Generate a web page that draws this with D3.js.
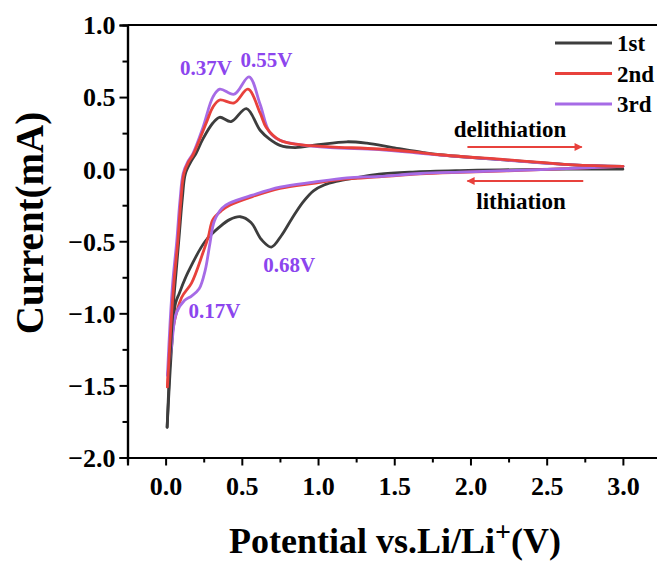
<!DOCTYPE html>
<html><head><meta charset="utf-8">
<script src="https://cdn.jsdelivr.net/npm/d3@7"></script>
<style>body{margin:0;background:#fff}svg{display:block}</style>
</head><body><div id="chart"></div>
<script>
// ---- data (potential V, current mA) ----
const seriesNames = ["1st", "2nd", "3rd"];
const xTicks = [0.0, 0.5, 1.0, 1.5, 2.0, 2.5, 3.0];
const yTicks = [1.0, 0.5, 0.0, -0.5, -1.0, -1.5, -2.0];

// cathodic sweep (lithiation) 3.0 -> 0.01 V
const lower1st = [[3.0,0.0],[2.6,0.0],[2.2,-0.005],[1.93,-0.01],[1.62,-0.02],[1.4,-0.035],[1.25,-0.06],[1.12,-0.085],[1.04,-0.11],[0.97,-0.15],[0.9,-0.23],[0.83,-0.34],[0.76,-0.46],[0.694,-0.54],[0.63,-0.49],[0.56,-0.37],[0.49,-0.33],[0.42,-0.35],[0.355,-0.40],[0.26,-0.5],[0.145,-0.72],[0.09,-0.86],[0.065,-0.93],[0.04,-1.23],[0.01,-1.79]];
const lower2nd = [[3.0,0.02],[2.67,0.005],[2.24,-0.012],[1.93,-0.022],[1.67,-0.033],[1.4,-0.053],[1.19,-0.068],[0.97,-0.098],[0.75,-0.133],[0.57,-0.19],[0.42,-0.25],[0.37,-0.285],[0.31,-0.35],[0.28,-0.47],[0.245,-0.58],[0.17,-0.79],[0.105,-0.89],[0.046,-1.12],[0.012,-1.51]];
const lower3rd = [[3.0,0.02],[2.67,0.005],[2.24,-0.01],[1.93,-0.02],[1.67,-0.03],[1.4,-0.05],[1.19,-0.06],[0.97,-0.09],[0.75,-0.125],[0.57,-0.18],[0.42,-0.235],[0.37,-0.27],[0.32,-0.36],[0.29,-0.52],[0.26,-0.70],[0.22,-0.83],[0.17,-0.88],[0.125,-0.91],[0.07,-1.0],[0.04,-1.22],[0.014,-1.43]];

// anodic sweep (delithiation) 0.01 -> 3.0 V
const upper1st = [[0.01,-1.79],[0.03,-1.3],[0.05,-0.95],[0.07,-0.7],[0.09,-0.45],[0.11,-0.2],[0.13,-0.03],[0.17,0.06],[0.2,0.11],[0.245,0.21],[0.31,0.32],[0.355,0.36],[0.43,0.33],[0.53,0.42],[0.62,0.27],[0.68,0.21],[0.75,0.165],[0.85,0.15],[1.0,0.17],[1.19,0.19],[1.32,0.18],[1.49,0.15],[1.69,0.115],[1.8,0.10],[2.24,0.063],[2.67,0.03],[3.0,0.02]];
const upper2nd = [[0.012,-1.51],[0.035,-1.08],[0.055,-0.78],[0.08,-0.5],[0.1,-0.22],[0.12,-0.03],[0.15,0.05],[0.18,0.1],[0.27,0.33],[0.31,0.43],[0.355,0.48],[0.45,0.46],[0.54,0.555],[0.62,0.39],[0.66,0.29],[0.75,0.2],[0.88,0.17],[1.08,0.155],[1.4,0.14],[1.67,0.115],[1.8,0.10],[2.24,0.065],[2.67,0.03],[3.0,0.02]];
const upper3rd = [[0.012,-1.43],[0.03,-1.05],[0.048,-0.77],[0.073,-0.5],[0.094,-0.22],[0.115,-0.03],[0.145,0.05],[0.18,0.11],[0.245,0.29],[0.31,0.50],[0.355,0.555],[0.45,0.52],[0.547,0.64],[0.62,0.45],[0.68,0.26],[0.75,0.2],[0.88,0.17],[1.08,0.15],[1.4,0.135],[1.67,0.11],[1.8,0.098],[2.24,0.062],[2.67,0.03],[3.0,0.02]];

const peakLabels = [{t:"0.37V", v:0.37, i:0.56}, {t:"0.55V", v:0.55, i:0.64}, {t:"0.68V", v:0.68, i:-0.54}, {t:"0.17V", v:0.17, i:-0.89}];

const colors = ["#3d3d3d", "#e8413c", "#a66be6"];

// ---- layout ----
const W = 657, H = 561;
const svg = d3.select("#chart").append("svg").attr("width", W).attr("height", H);
const x = d3.scaleLinear().domain([-0.25, 3.25]).range([127.5, 661]);
const y = d3.scaleLinear().domain([-2.0, 1.0]).range([457.5, 25]);
const FONT = "'Liberation Serif','Times New Roman',serif";

const line = d3.line().x(d => x(d[0])).y(d => y(d[1])).curve(d3.curveCatmullRom.alpha(0.5));
const lowers = [lower1st, lower2nd, lower3rd];
const uppers = [upper1st, upper2nd, upper3rd];
function drawBranch(data, k) {
  svg.append("path").datum(data).attr("d", line)
    .attr("fill", "none").attr("stroke", colors[k]).attr("stroke-width", 2.8)
    .attr("stroke-linejoin", "round").attr("stroke-linecap", "round");
}
// stacking as in the original figure
[0, 1, 2].forEach(k => drawBranch(lowers[k], k));
[0, 2, 1].forEach(k => drawBranch(uppers[k], k));

// axes
const xAxis = d3.axisBottom(x).tickValues(xTicks).tickSize(8).tickFormat(d3.format(".1f"));
const xMinor = d3.axisBottom(x).tickValues(d3.range(-0.25, 3.26, 0.5)).tickSize(5).tickFormat("");
const yAxis = d3.axisLeft(y).tickValues(yTicks).tickSize(8).tickFormat(d3.format(".1f"));
const yMinor = d3.axisLeft(y).tickValues(d3.range(-1.75, 1.0, 0.5)).tickSize(5).tickFormat("");

function style(g) {
  g.select(".domain").attr("stroke", "#000").attr("stroke-width", 2.2);
  g.selectAll(".tick line").attr("stroke", "#000").attr("stroke-width", 2);
  g.selectAll(".tick text").attr("font-family", FONT).attr("font-weight", "bold")
    .attr("font-size", 26).attr("fill", "#000");
}
const gx = svg.append("g").attr("transform", `translate(0,${y(-2.0)})`).call(xAxis).call(style);
gx.selectAll(".tick text").attr("y", 19).attr("dy", "0.71em");
svg.append("g").attr("transform", `translate(0,${y(-2.0)})`).call(xMinor).call(style);
const gy = svg.append("g").attr("transform", `translate(${x(-0.25)},0)`).call(yAxis).call(style);
gy.selectAll(".tick text").attr("x", -12).attr("dy", "0.34em");
svg.append("g").attr("transform", `translate(${x(-0.25)},0)`).call(yMinor).call(style);
// top frame
svg.append("line").attr("x1", x(-0.25)).attr("x2", W).attr("y1", y(1.0)).attr("y2", y(1.0))
  .attr("stroke", "#000").attr("stroke-width", 2.2);

// axis titles
svg.append("text").attr("transform", `translate(43,223) rotate(-90)`).attr("text-anchor", "middle")
  .attr("font-family", FONT).attr("font-weight", "bold").attr("font-size", 39).text("Current(mA)");
const xt = svg.append("text").attr("x", 395).attr("y", 553).attr("text-anchor", "middle")
  .attr("font-family", FONT).attr("font-weight", "bold").attr("font-size", 36);
xt.append("tspan").text("Potential vs.Li/Li");
xt.append("tspan").attr("dy", -12).attr("font-size", 28).text("+");
xt.append("tspan").attr("dy", 12).text("(V)");

// legend
seriesNames.forEach((n, k) => {
  const ly = 43 + k * 30.5;
  svg.append("line").attr("x1", 555).attr("x2", 612).attr("y1", ly).attr("y2", ly)
    .attr("stroke", colors[k]).attr("stroke-width", 2.8);
  svg.append("text").attr("x", 617).attr("y", ly).attr("dy", "0.35em")
    .attr("font-family", FONT).attr("font-weight", "bold").attr("font-size", 23).text(n);
});

// peak annotations
const annOffsets = [[-42, -13], [-9, -10], [-6, 25], [-3, 21]];
peakLabels.forEach((p, k) => {
  svg.append("text").attr("x", x(p.v) + annOffsets[k][0]).attr("y", y(p.i) + annOffsets[k][1])
    .attr("font-family", FONT).attr("font-weight", "bold").attr("font-size", 21)
    .attr("fill", "#8c45ee").text(p.t);
});

// direction arrows
const arrowColor = "#e8413c";
svg.append("defs").append("marker").attr("id", "ah").attr("viewBox", "0 0 10 10")
  .attr("refX", 9).attr("refY", 5).attr("markerWidth", 5).attr("markerHeight", 4)
  .attr("markerUnits", "strokeWidth").attr("orient", "auto")
  .append("path").attr("d", "M0,0 L10,5 L0,10 Z").attr("fill", arrowColor);
svg.append("text").attr("x", 510).attr("y", 137).attr("text-anchor", "middle")
  .attr("font-family", FONT).attr("font-weight", "bold").attr("font-size", 23).text("delithiation");
svg.append("line").attr("x1", x(1.98)).attr("x2", x(2.73)).attr("y1", 147).attr("y2", 147)
  .attr("stroke", arrowColor).attr("stroke-width", 2).attr("marker-end", "url(#ah)");
svg.append("line").attr("x1", x(2.74)).attr("x2", x(1.98)).attr("y1", 181).attr("y2", 181)
  .attr("stroke", arrowColor).attr("stroke-width", 2).attr("marker-end", "url(#ah)");
svg.append("text").attr("x", 521).attr("y", 209).attr("text-anchor", "middle")
  .attr("font-family", FONT).attr("font-weight", "bold").attr("font-size", 23).text("lithiation");
</script></body></html>
